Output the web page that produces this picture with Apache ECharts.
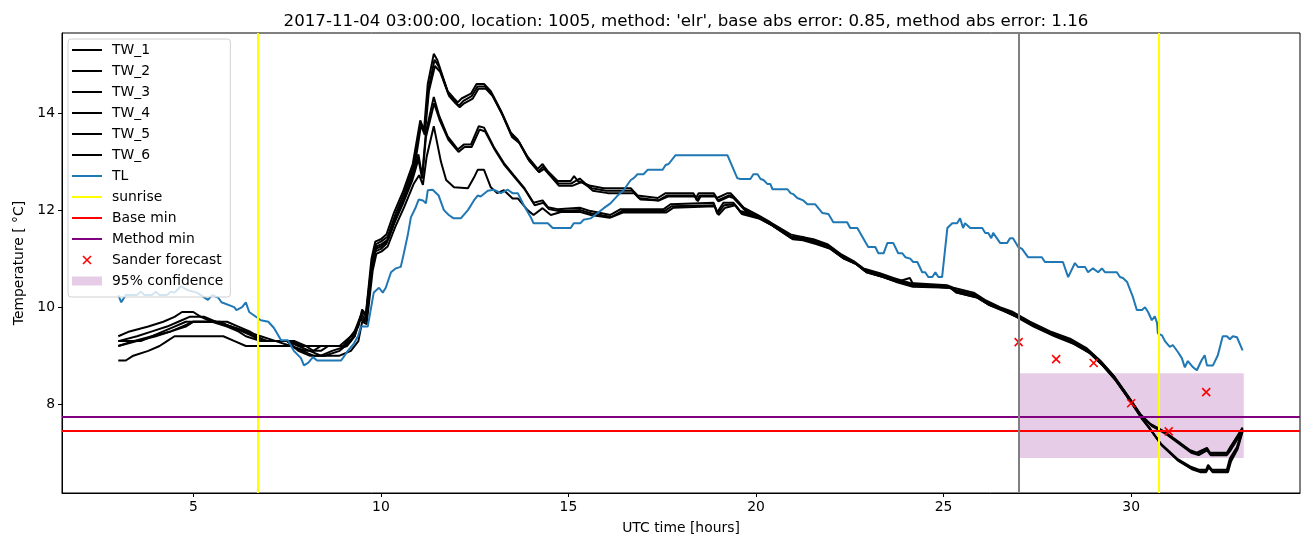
<!DOCTYPE html>
<html><head><meta charset="utf-8">
<script src="https://cdn.jsdelivr.net/npm/echarts@6/dist/echarts.min.js"></script>
<style>html,body{margin:0;padding:0;background:#fff}#c{width:1310px;height:547px}</style>
</head><body><div id="c"></div>
<script>
// ---- data (hours UTC, temperature °C) ----
const TW_1 = [[3,9.4],[3.3,9.5],[3.8,9.6],[4.2,9.7],[4.5,9.8],[4.7,9.9],[5.0,9.9],[5.2,9.8],[5.5,9.7],[5.9,9.6],[6.2,9.5],[6.4,9.4],[6.8,9.3],[7.6,9.3],[7.9,9.2],[8.9,9.2],[9.2,9.4],[9.4,9.6],[9.5,9.95],[9.6,9.85],[9.75,11.0],[9.85,11.35],[10.0,11.4],[10.15,11.5],[10.35,11.95],[10.6,12.4],[10.85,12.95],[11.05,13.85],[11.15,13.65],[11.25,14.6],[11.41,15.22],[11.5,15.1],[11.78,14.45],[11.95,14.3],[12.05,14.22],[12.15,14.3],[12.4,14.4],[12.55,14.6],[12.75,14.6],[12.93,14.45],[13.2,14.05],[13.46,13.6],[13.65,13.45],[13.91,13.1],[14.18,12.85],[14.31,12.95],[14.45,12.8],[14.71,12.6],[15.06,12.6],[15.15,12.7],[15.25,12.6],[15.59,12.5],[15.94,12.45],[16.66,12.45],[16.84,12.3],[17.38,12.25],[17.59,12.35],[18.33,12.35],[18.4,12.25],[18.47,12.35],[18.87,12.35],[18.96,12.25],[19.24,12.35],[19.32,12.35],[19.5,12.2],[19.67,12.05],[20.04,11.9],[20.38,11.75],[20.92,11.5],[21.18,11.45],[21.53,11.4],[21.9,11.3],[22.25,11.1],[22.6,10.95],[22.86,10.8],[23.3,10.7],[23.66,10.6],[24.1,10.5],[25.1,10.45],[25.26,10.4],[25.8,10.3],[26.1,10.15],[26.5,10.0],[26.85,9.9],[27.3,9.7],[27.84,9.5],[28.37,9.35],[28.82,9.15],[29.17,8.9],[29.52,8.6],[29.89,8.2],[30.24,7.8],[30.5,7.6],[30.85,7.45],[31.22,7.25],[31.57,7.05],[31.75,7.0],[32.02,7.1],[32.1,7.0],[32.55,7.0],[32.63,7.1],[32.97,7.5]];
const TW_2 = [[3,9.3],[3.5,9.4],[3.9,9.5],[4.3,9.6],[4.6,9.7],[4.9,9.8],[5.3,9.8],[5.6,9.7],[6.0,9.6],[6.3,9.5],[6.6,9.4],[7.0,9.3],[7.7,9.3],[8.0,9.2],[8.2,9.1],[8.4,9.2],[9.0,9.2],[9.3,9.5],[9.5,9.9],[9.62,9.8],[9.77,10.95],[9.87,11.3],[10.0,11.35],[10.18,11.45],[10.38,11.9],[10.62,12.35],[10.87,12.9],[11.06,13.8],[11.16,13.6],[11.27,14.5],[11.43,15.1],[11.55,14.95],[11.8,14.4],[11.97,14.25],[12.08,14.15],[12.2,14.25],[12.42,14.35],[12.58,14.55],[12.77,14.55],[12.95,14.4],[13.22,14.0],[13.48,13.55],[13.68,13.4],[13.93,13.05],[14.2,12.8],[14.33,12.9],[14.48,12.75],[14.73,12.55],[15.08,12.55],[15.3,12.65],[15.45,12.55],[15.62,12.45],[16.0,12.4],[16.7,12.4],[16.88,12.25],[17.4,12.2],[17.62,12.3],[18.36,12.3],[18.42,12.2],[18.5,12.3],[18.9,12.3],[18.98,12.2],[19.26,12.3],[19.36,12.3],[19.54,12.15],[19.72,12.0],[20.08,11.85],[20.42,11.7],[20.96,11.45],[21.22,11.45],[21.58,11.35],[21.95,11.25],[22.3,11.05],[22.65,10.9],[22.9,10.75],[23.35,10.65],[23.7,10.55],[24.15,10.45],[25.15,10.4],[25.3,10.35],[25.85,10.25],[26.15,10.1],[26.55,9.95],[26.9,9.85],[27.35,9.65],[27.9,9.45],[28.42,9.3],[28.86,9.1],[29.2,8.85],[29.55,8.55],[29.92,8.15],[30.27,7.75],[30.55,7.55],[30.9,7.4],[31.25,7.2],[31.6,7.0],[31.8,6.95],[32.02,7.05],[32.12,6.95],[32.55,6.95],[32.65,7.05],[32.97,7.45]];
const TW_3 = [[3,9.3],[3.6,9.3],[3.9,9.4],[4.4,9.5],[4.8,9.6],[5.0,9.7],[5.6,9.7],[6.0,9.6],[6.4,9.5],[6.8,9.4],[7.2,9.3],[7.6,9.2],[8.0,9.1],[8.4,9.1],[8.6,9.2],[9.0,9.2],[9.3,9.4],[9.48,9.85],[9.6,9.75],[9.78,10.9],[9.88,11.25],[10.02,11.3],[10.2,11.4],[10.4,11.85],[10.64,12.3],[10.89,12.85],[11.07,13.75],[11.17,13.55],[11.28,14.45],[11.44,14.97],[11.58,14.85],[11.82,14.35],[11.99,14.2],[12.1,14.12],[12.22,14.2],[12.45,14.3],[12.6,14.5],[12.8,14.5],[12.98,14.35],[13.25,13.95],[13.5,13.5],[13.7,13.38],[13.95,13.02],[14.22,12.78],[14.35,12.85],[14.5,12.72],[14.75,12.5],[15.1,12.5],[15.35,12.58],[15.5,12.5],[15.65,12.4],[16.05,12.35],[16.75,12.35],[16.92,12.22],[17.42,12.2],[17.65,12.28],[18.38,12.28],[18.45,12.18],[18.52,12.28],[18.92,12.28],[19.0,12.18],[19.28,12.28],[19.4,12.25],[19.58,12.1],[19.76,11.95],[20.12,11.82],[20.46,11.68],[21.0,11.42],[21.26,11.4],[21.62,11.32],[22.0,11.2],[22.35,11.0],[22.7,10.88],[22.95,10.72],[23.4,10.62],[23.75,10.52],[24.1,10.6],[24.2,10.45],[25.2,10.4],[25.35,10.3],[25.9,10.2],[26.2,10.05],[26.6,9.92],[26.95,9.8],[27.4,9.62],[27.95,9.42],[28.47,9.28],[28.9,9.05],[29.24,8.8],[29.58,8.5],[29.95,8.1],[30.3,7.7],[30.5,7.5],[30.77,7.2],[31.22,6.88],[31.57,6.72],[31.8,6.65],[32.0,6.65],[32.05,6.75],[32.15,6.65],[32.55,6.65],[32.63,6.88],[32.82,7.12],[32.97,7.48]];
const TW_4 = [[3,9.2],[3.5,9.3],[4.0,9.4],[4.4,9.5],[4.7,9.6],[5.0,9.7],[5.7,9.7],[6.0,9.6],[6.4,9.5],[6.8,9.3],[7.5,9.3],[7.8,9.2],[8.1,9.1],[8.4,9.0],[8.7,9.1],[9.1,9.2],[9.3,9.4],[9.47,9.8],[9.6,9.7],[9.76,10.85],[9.86,11.2],[10.0,11.25],[10.16,11.35],[10.36,11.75],[10.6,12.2],[10.85,12.7],[11.0,13.15],[11.1,12.7],[11.2,13.6],[11.41,14.33],[11.55,13.95],[11.78,13.52],[12.05,13.25],[12.21,13.35],[12.4,13.35],[12.61,13.73],[12.75,13.7],[13.01,13.3],[13.28,12.97],[13.54,12.72],[13.81,12.47],[14.07,12.15],[14.31,12.2],[14.45,12.06],[14.71,12.02],[15.3,12.05],[15.59,11.98],[16.12,11.9],[16.39,12.02],[17.54,12.02],[17.72,12.12],[18.87,12.15],[18.96,11.95],[19.13,12.15],[19.4,12.15],[19.58,11.98],[20.04,11.88],[20.38,11.73],[20.92,11.45],[21.2,11.42],[21.55,11.36],[21.92,11.26],[22.28,11.06],[22.62,10.92],[22.88,10.78],[23.32,10.66],[23.68,10.58],[24.12,10.48],[25.12,10.43],[25.28,10.36],[25.82,10.26],[26.12,10.12],[26.52,9.98],[26.88,9.86],[27.32,9.68],[27.86,9.46],[28.4,9.3],[28.84,9.12],[29.19,8.88],[29.54,8.58],[29.9,8.18],[30.25,7.78],[30.52,7.58],[30.87,7.43],[31.24,7.22],[31.58,7.03],[31.77,6.98],[32.02,7.08],[32.11,6.98],[32.57,6.98],[32.64,7.1],[32.97,7.52]];
const TW_5 = [[3,9.2],[3.4,9.3],[3.9,9.4],[4.2,9.5],[4.5,9.6],[4.8,9.7],[5.9,9.7],[6.2,9.6],[6.5,9.5],[6.9,9.3],[7.5,9.3],[7.8,9.1],[8.1,9.0],[8.5,9.0],[8.9,9.1],[9.2,9.3],[9.45,9.75],[9.58,9.7],[9.74,10.8],[9.85,11.15],[10.0,11.2],[10.14,11.3],[10.34,11.7],[10.58,12.12],[10.84,12.62],[11.0,13.05],[11.1,12.65],[11.2,13.5],[11.42,14.2],[11.57,13.85],[11.8,13.45],[12.07,13.2],[12.23,13.3],[12.42,13.3],[12.63,13.66],[12.78,13.62],[13.04,13.24],[13.3,12.92],[13.56,12.68],[13.84,12.42],[14.1,12.1],[14.33,12.15],[14.48,12.02],[14.74,11.98],[15.32,12.0],[15.62,11.93],[16.15,11.86],[16.42,11.98],[17.56,11.98],[17.75,12.08],[18.89,12.1],[18.97,11.92],[19.15,12.1],[19.42,12.12],[19.6,11.95],[20.06,11.85],[20.4,11.7],[20.94,11.42],[21.22,11.4],[21.58,11.33],[21.96,11.22],[22.32,11.02],[22.66,10.9],[22.92,10.74],[23.36,10.63],[23.72,10.54],[24.16,10.44],[25.16,10.41],[25.32,10.32],[25.86,10.22],[26.16,10.08],[26.56,9.95],[26.92,9.82],[27.37,9.64],[27.92,9.44],[28.44,9.26],[28.88,9.07],[29.22,8.82],[29.56,8.52],[29.93,8.12],[30.28,7.72],[30.52,7.47],[30.8,7.17],[31.25,6.84],[31.6,6.68],[31.82,6.62],[32.0,6.62],[32.06,6.72],[32.16,6.62],[32.56,6.62],[32.64,6.84],[32.83,7.1],[32.97,7.46]];
const TW_6 = [[3,8.9],[3.2,8.9],[3.4,9.0],[3.8,9.1],[4.1,9.2],[4.3,9.3],[4.5,9.4],[5.8,9.4],[6.1,9.3],[6.4,9.2],[7.6,9.2],[7.9,9.1],[8.2,9.0],[8.9,9.0],[9.2,9.1],[9.4,9.3],[9.5,9.7],[9.62,9.65],[9.78,10.75],[9.88,11.1],[10.02,11.15],[10.18,11.25],[10.38,11.65],[10.62,12.06],[10.88,12.55],[11.02,12.72],[11.12,12.52],[11.22,13.1],[11.41,13.73],[11.6,13.0],[11.74,12.62],[11.95,12.47],[12.32,12.45],[12.5,12.7],[12.58,12.83],[12.75,12.83],[12.93,12.47],[13.1,12.35],[13.28,12.41],[13.51,12.24],[13.65,12.24],[13.91,12.0],[14.07,11.9],[14.31,12.04],[14.53,11.9],[14.8,11.96],[15.32,11.96],[15.6,11.9],[16.1,11.84],[16.45,11.95],[17.6,11.95],[17.8,12.05],[18.9,12.08],[19.0,11.9],[19.18,12.05],[19.45,12.1],[19.62,11.92],[20.1,11.82],[20.44,11.68],[20.98,11.4],[21.25,11.38],[21.6,11.3],[21.98,11.2],[22.34,11.0],[22.68,10.88],[22.94,10.72],[23.38,10.62],[23.74,10.52],[24.18,10.42],[25.18,10.4],[25.34,10.3],[25.88,10.2],[26.18,10.06],[26.58,9.94],[26.94,9.8],[27.4,9.6],[27.96,9.4],[28.48,9.24],[28.92,9.04],[29.26,8.78],[29.6,8.48],[29.96,8.08],[30.3,7.68],[30.55,7.44],[30.82,7.15],[31.28,6.82],[31.62,6.66],[31.84,6.6],[32.0,6.6],[32.07,6.7],[32.17,6.6],[32.58,6.6],[32.66,6.82],[32.84,7.08],[32.97,7.44]];
const TL = [[3.0,10.25],[3.08,10.1],[3.2,10.25],[3.5,10.25],[3.6,10.32],[3.7,10.25],[3.9,10.25],[4.0,10.32],[4.1,10.25],[4.3,10.25],[4.4,10.32],[4.5,10.3],[4.67,10.43],[4.85,10.35],[5.1,10.3],[5.39,10.15],[5.5,10.25],[5.66,10.2],[5.75,10.1],[6.09,10.0],[6.15,9.94],[6.3,10.0],[6.4,10.1],[6.49,9.9],[6.8,9.73],[7.0,9.7],[7.15,9.57],[7.34,9.32],[7.52,9.32],[7.68,9.1],[7.87,8.95],[7.95,8.8],[8.06,8.85],[8.19,8.97],[8.3,8.9],[8.94,8.9],[9.12,9.1],[9.28,9.25],[9.39,9.4],[9.47,9.6],[9.65,9.6],[9.81,10.3],[9.95,10.4],[10.05,10.3],[10.13,10.4],[10.27,10.72],[10.4,10.8],[10.53,10.83],[10.61,11.1],[10.72,11.5],[10.8,11.85],[10.93,12.06],[11.01,12.22],[11.12,12.2],[11.2,12.14],[11.25,12.41],[11.38,12.42],[11.54,12.3],[11.68,12.0],[11.81,11.9],[11.94,11.83],[12.13,11.83],[12.32,12.0],[12.48,12.2],[12.58,12.3],[12.66,12.28],[12.85,12.4],[13.01,12.42],[13.2,12.35],[13.38,12.42],[13.51,12.35],[13.65,12.35],[13.81,12.1],[13.99,11.86],[14.07,11.73],[14.45,11.73],[14.58,11.63],[15.06,11.63],[15.14,11.73],[15.32,11.73],[15.4,11.8],[15.59,11.83],[15.78,11.94],[15.94,12.04],[16.12,12.14],[16.31,12.3],[16.47,12.41],[16.66,12.62],[16.74,12.66],[16.84,12.74],[17.0,12.74],[17.11,12.83],[17.51,12.83],[17.59,12.93],[17.67,12.95],[17.85,13.13],[19.24,13.13],[19.5,12.66],[19.58,12.64],[19.85,12.64],[19.93,12.74],[20.04,12.74],[20.12,12.64],[20.2,12.62],[20.3,12.54],[20.38,12.54],[20.44,12.43],[20.84,12.43],[20.92,12.35],[20.99,12.33],[21.1,12.25],[21.26,12.2],[21.37,12.12],[21.58,12.12],[21.77,11.94],[21.93,11.92],[22.06,11.75],[22.43,11.75],[22.51,11.63],[22.7,11.63],[22.99,11.24],[23.18,11.24],[23.26,11.11],[23.4,11.11],[23.5,11.32],[23.66,11.32],[23.79,11.11],[23.9,11.11],[23.98,11.03],[24.11,11.0],[24.19,10.93],[24.3,10.93],[24.43,10.72],[24.51,10.72],[24.59,10.62],[24.7,10.62],[24.78,10.72],[24.86,10.62],[24.96,10.62],[25.1,11.63],[25.23,11.73],[25.36,11.73],[25.44,11.83],[25.52,11.63],[25.57,11.73],[25.71,11.63],[26.03,11.63],[26.11,11.53],[26.19,11.53],[26.27,11.42],[26.32,11.53],[26.51,11.32],[26.69,11.32],[26.77,11.42],[26.85,11.42],[26.99,11.24],[27.09,11.2],[27.25,11.03],[27.62,11.03],[27.7,10.93],[28.18,10.93],[28.32,10.62],[28.5,10.91],[28.58,10.83],[28.77,10.83],[28.85,10.72],[28.98,10.8],[29.12,10.72],[29.22,10.8],[29.3,10.72],[29.62,10.72],[29.7,10.62],[29.78,10.6],[29.89,10.52],[29.91,10.5],[30.05,10.2],[30.15,9.94],[30.29,9.94],[30.37,10.0],[30.45,9.9],[30.55,9.73],[30.63,9.81],[30.69,9.67],[30.71,9.46],[30.82,9.42],[30.9,9.3],[31.03,9.18],[31.11,9.22],[31.25,9.07],[31.35,8.95],[31.43,8.76],[31.51,8.89],[31.65,8.76],[31.75,8.7],[31.88,8.91],[31.96,9.01],[32.02,8.8],[32.18,8.8],[32.31,9.01],[32.44,9.4],[32.55,9.4],[32.63,9.34],[32.71,9.4],[32.82,9.38],[32.97,9.11]];
const sanderHours = [27, 28, 29, 30, 31, 32];
const sanderTemps = [9.28, 8.93, 8.85, 8.02, 7.44, 8.25];
const sunriseHours = [6.73, 30.74];
const nowHour = 27.0;
const baseMin = 7.45;
const methodMin = 7.75;
const confHours = [27, 33];
const confRange = [6.89, 8.64];
const xTicks = [5, 10, 15, 20, 25, 30];
const yTicks = [8, 10, 12, 14];
const xRange = [1.5, 34.5];
const yRange = [6.17, 15.65];
const titleText = "2017-11-04 03:00:00, location: 1005, method: 'elr', base abs error: 0.85, method abs error: 1.16";

const FONT = 'DejaVu Sans';
const FS = 13.9;
const LW = 2;
const chart = echarts.init(document.getElementById('c'), null, {renderer: 'canvas'});
const twNames = ['TW_1','TW_2','TW_3','TW_4','TW_5','TW_6'];
const twData = [TW_1, TW_2, TW_3, TW_4, TW_5, TW_6];
const LINE_ICON = 'path://M0,0h30v2h-30z';
const series = [];
series.push({
  name: '95% confidence', type: 'line', data: [], symbol: 'none',
  itemStyle: {color: 'rgba(128,0,128,0.2)'},
  lineStyle: {width: 0},
  markArea: {silent: true, itemStyle: {color: 'rgba(128,0,128,0.2)'},
    data: [[{xAxis: confHours[0], yAxis: confRange[1]}, {xAxis: confHours[1], yAxis: confRange[0]}]]},
  z: 1
});
twNames.forEach((n, i) => series.push({
  name: n, type: 'line', data: twData[i], symbol: 'none', showSymbol: false,
  lineStyle: {color: '#000', width: LW}, itemStyle: {color: '#000'}, z: 2
}));
series.push({name: 'TL', type: 'line', data: TL, symbol: 'none', lineStyle: {color: '#1f77b4', width: LW}, itemStyle: {color: '#1f77b4'}, z: 2});
const mlBase = {silent: true, symbol: 'none', label: {show: false}, animation: false};
series.push({name: 'sunrise', type: 'line', data: [], symbol: 'none', lineStyle: {color: '#ffff00', width: LW}, itemStyle: {color: '#ffff00'}, z: 2,
  markLine: Object.assign({}, mlBase, {lineStyle: {color: '#ffff00', width: LW, type: 'solid'}, data: sunriseHours.map(h => ({xAxis: h}))})});
series.push({name: 'Base min', type: 'line', data: [], symbol: 'none', lineStyle: {color: '#ff0000', width: LW}, itemStyle: {color: '#ff0000'}, z: 2,
  markLine: Object.assign({}, mlBase, {lineStyle: {color: '#ff0000', width: LW, type: 'solid'}, data: [{yAxis: baseMin}]})});
series.push({name: 'Method min', type: 'line', data: [], symbol: 'none', lineStyle: {color: '#800080', width: LW}, itemStyle: {color: '#800080'}, z: 2,
  markLine: Object.assign({}, mlBase, {lineStyle: {color: '#800080', width: LW, type: 'solid'}, data: [{yAxis: methodMin}]})});
series.push({name: 'now', type: 'line', data: [], symbol: 'none', z: 2,
  markLine: Object.assign({}, mlBase, {lineStyle: {color: '#808080', width: LW, type: 'solid'}, data: [{xAxis: nowHour}]})});
series.push({name: 'Sander forecast', type: 'scatter', data: sanderHours.map((h, i) => [h, sanderTemps[i]]),
  symbol: 'path://M0,0L10,10M10,0L0,10', symbolSize: 8,
  itemStyle: {color: '#ff0000', borderColor: '#ff0000', borderWidth: 1.6, opacity: 1}, z: 3});

const legendData = twNames.concat(['TL', 'sunrise', 'Base min', 'Method min']).map(n => ({name: n, icon: LINE_ICON}));
legendData.push({name: 'Sander forecast', icon: 'path://M0,0M3,3L11,11M11,3L3,11M14,14',
  itemStyle: {color: '#ff0000', borderColor: '#ff0000', borderWidth: 1.6, opacity: 1}});
legendData.push({name: '95% confidence', icon: 'path://M0,0h30v9h-30z'});

chart.setOption({
  animation: false,
  backgroundColor: '#fff',
  textStyle: {fontFamily: FONT},
  title: {text: titleText, left: 681, top: 8, textAlign: 'center',
    textStyle: {fontFamily: FONT, fontSize: 16.67, fontWeight: 'normal', color: '#000'}},
  grid: {left: 62, right: 10, top: 33, bottom: 54, show: true, borderColor: '#000', borderWidth: 1, backgroundColor: 'transparent'},
  legend: {
    orient: 'vertical', left: 68, top: 39, z: 10,
    data: legendData,
    itemWidth: 30, itemHeight: 14, itemGap: 5,
    padding: [3, 7, 8, 4],
    backgroundColor: 'rgba(255,255,255,0.8)', borderColor: '#d0d0d0', borderWidth: 1, borderRadius: 3,
    textStyle: {fontFamily: FONT, fontSize: FS, lineHeight: 16, color: '#000', padding: [0, 0, 0, 5]},
    selectedMode: false
  },
  xAxis: {
    type: 'value', min: xRange[0], max: xRange[1],
    name: 'UTC time [hours]', nameLocation: 'middle', nameGap: 28,
    nameTextStyle: {fontFamily: FONT, fontSize: FS, color: '#000'},
    axisLine: {show: true, lineStyle: {color: '#000', width: 1}},
    axisTick: {show: true, inside: false, length: 4, customValues: xTicks, lineStyle: {color: '#000'}},
    axisLabel: {customValues: xTicks, color: '#000', fontFamily: FONT, fontSize: FS, margin: 7},
    splitLine: {show: false}
  },
  yAxis: {
    type: 'value', min: yRange[0], max: yRange[1],
    name: 'Temperature [ °C]', nameLocation: 'middle', nameGap: 36, nameRotate: 90,
    nameTextStyle: {fontFamily: FONT, fontSize: FS, color: '#000'},
    axisLine: {show: true, lineStyle: {color: '#000', width: 1}},
    axisTick: {show: true, inside: false, length: 4, customValues: yTicks, lineStyle: {color: '#000'}},
    axisLabel: {customValues: yTicks, color: '#000', fontFamily: FONT, fontSize: FS, margin: 7},
    splitLine: {show: false}
  },
  series: series
});
</script></body></html>
